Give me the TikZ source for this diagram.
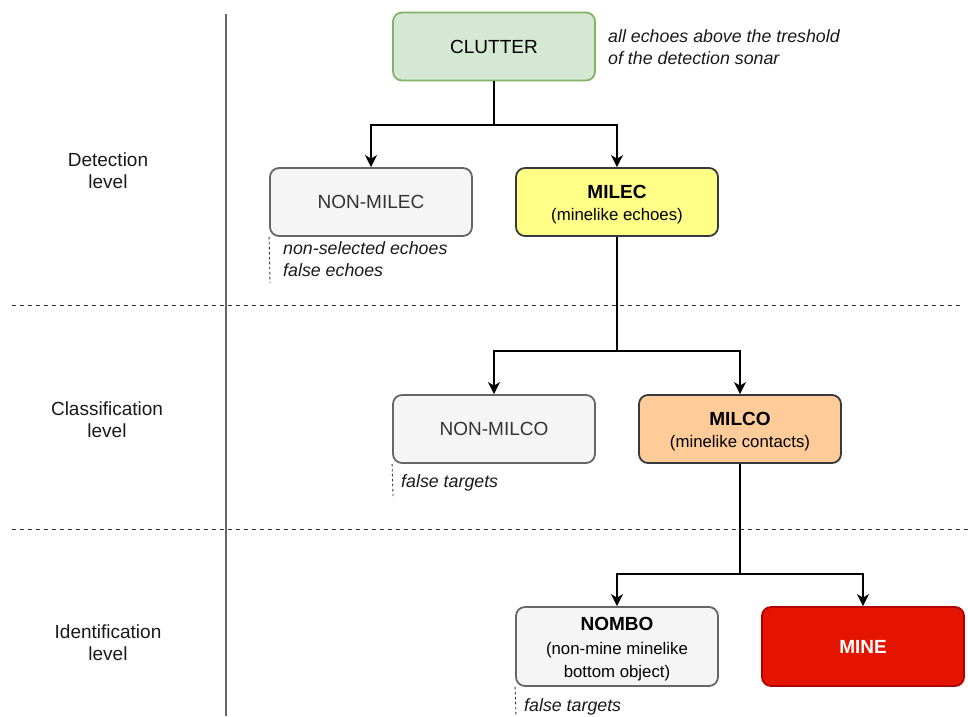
\documentclass[tikz,border=0pt]{standalone}
\usepackage{fontspec}
\setmainfont{Liberation Sans}
\usetikzlibrary{arrows.meta}
\definecolor{grfill}{HTML}{D5E8D4}
\definecolor{grline}{HTML}{82B366}
\definecolor{gyfill}{HTML}{F5F5F5}
\definecolor{gyline}{HTML}{666666}
\definecolor{gytext}{HTML}{333333}
\definecolor{yefill}{HTML}{FFFF88}
\definecolor{dkline}{HTML}{36393D}
\definecolor{orfill}{HTML}{FFCC99}
\definecolor{rdfill}{HTML}{E51400}
\definecolor{rdline}{HTML}{B20000}
\tikzset{
  boxbase/.style={rounded corners=9pt, line width=1.8pt, minimum width=202pt, minimum height=68pt, inner sep=0pt, align=center, font=\fontsize{19}{23}\selectfont},
  greenbox/.style={boxbase, fill=grfill, draw=grline},
  greybox/.style={boxbase, fill=gyfill, draw=gyline, text=gytext},
  yellowbox/.style={boxbase, fill=yefill, draw=dkline},
  orangebox/.style={boxbase, fill=orfill, draw=dkline},
  redbox/.style={boxbase, fill=rdfill, draw=rdline, text=white},
  conn/.style={line width=1.8pt, -{Stealth[length=12pt,width=12pt,inset=3.5pt]}},
  connline/.style={line width=1.8pt},
  sepline/.style={line width=0.9pt, dash pattern=on 4pt off 4pt, draw=black!80},
  noteline/.style={line width=0.9pt, dash pattern=on 2.5pt off 2.5pt, draw=black!80},
  note/.style={font=\fontsize{17.8}{22}\selectfont\itshape, align=left, anchor=north west, inner sep=0pt, text=black!90},
  lvl/.style={font=\fontsize{19}{22}\selectfont, align=center, text=black!90},
}
\newcommand{\subtxt}[1]{{\fontsize{16.8}{23}\selectfont #1}}
\newcommand{\topstrut}{\rule{0pt}{18.5pt}}
\begin{document}
\begin{tikzpicture}[x=1pt,y=-1pt]
\useasboundingbox (0,0) rectangle (968,716);
% separators
\draw[line width=1.3pt, draw=gyline] (226,14) -- (226,716);
\draw[sepline] (12,305) -- (962,305);
\draw[sepline] (12,529) -- (968,529);
% level labels
\node[lvl] (ldet) at (108,171) {Detection\\level};
\node[lvl] (lcla) at (107,420) {Classification\\level};
\node[lvl] (lide) at (108,643) {Identification\\level};
% boxes
\node[greenbox] (clutter) at (494,46.5) {CLUTTER};
\node[greybox] (nonmilec) at (371,202) {NON-MILEC};
\node[yellowbox] (milec) at (617,202) {\topstrut\textbf{MILEC}\\[-1pt]\subtxt{(minelike echoes)}};
\node[greybox] (nonmilco) at (494,429) {NON-MILCO};
\node[orangebox] (milco) at (740,429) {\topstrut\textbf{MILCO}\\[-1pt]\subtxt{(minelike contacts)}};
\node[greybox, minimum height=79pt, text=black] (nombo) at (617,646.5) {\topstrut\textbf{NOMBO}\\[1pt]\subtxt{(non-mine minelike}\\\subtxt{bottom object)}};
\node[redbox, minimum height=79pt] (mine) at (863,646.5) {\textbf{MINE}};
% junction coordinates
\coordinate (j1) at (494,125);
\coordinate (j2) at (617,351);
\coordinate (j3) at (740,574);
% connectors
\draw[connline] (clutter.south) -- (j1);
\draw[conn] (j1) -| (nonmilec.north);
\draw[conn] (j1) -| (milec.north);
\draw[connline] (milec.south) -- (j2);
\draw[conn] (j2) -| (nonmilco.north);
\draw[conn] (j2) -| (milco.north);
\draw[connline] (milco.south) -- (j3);
\draw[conn] (j3) -| (nombo.north);
\draw[conn] (j3) -| (mine.north);
% notes
\node[note] (n1) at (608,29.5) {all echoes above the treshold\\of the detection sonar};
\node[note] (n2) at (283,241.5) {non-selected echoes\\false echoes};
\node[note] (n3) at (401,474.5) {false targets};
\node[note] (n4) at (524,698.5) {false targets};
\coordinate (e1) at (270,283);
\coordinate (e2) at (393,496);
\coordinate (e3) at (516,716);
\draw[noteline] (nonmilec.south west) -- (e1);
\draw[noteline] (nonmilco.south west) -- (e2);
\draw[noteline] (nombo.south west) -- (e3);
\end{tikzpicture}
\end{document}
